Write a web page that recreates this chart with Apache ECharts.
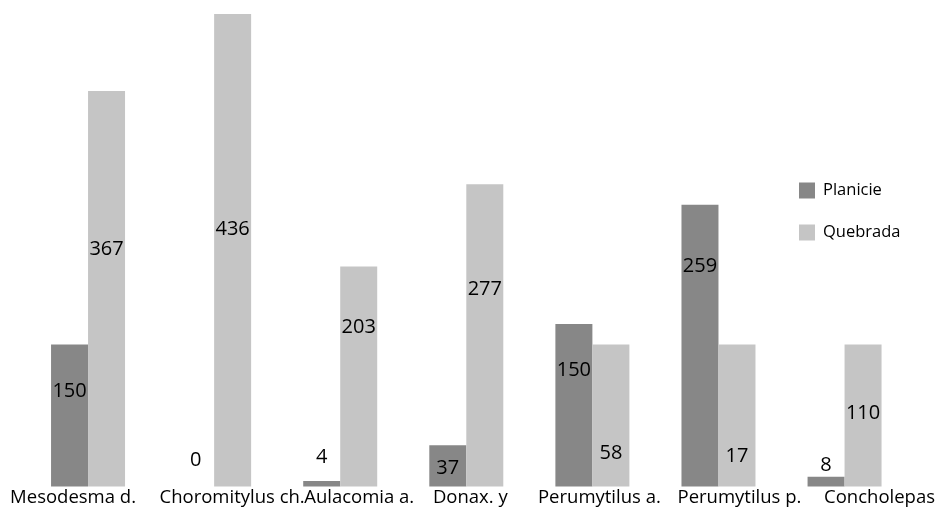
<!DOCTYPE html>
<html>
<head>
<meta charset="utf-8">
<script src="https://cdn.jsdelivr.net/npm/echarts@6/dist/echarts.min.js"></script>
<style>
  html, body { margin: 0; padding: 0; background: #fff; }
  #chart { width: 938px; height: 509px; }
</style>
</head>
<body>
<div id="chart"></div>
<script>
var categories = ['Mesodesma d.', 'Choromitylus ch.', 'Aulacomia a.', 'Donax. y', 'Perumytilus a.', 'Perumytilus p.', 'Concholepas'];
// bar heights as drawn in the picture
var planicie = [131, 0, 5, 38, 150, 260, 9];
var quebrada = [365, 436, 203, 279, 131, 131, 131];
// printed numbers and the height where each one sits
var planicieText = ['150', '0', '4', '37', '150', '259', '8'];
var quebradaText = ['367', '436', '203', '277', '58', '17', '110'];
var planicieTextAt = [88, 24, 27, 17, 107, 203, 20];
var quebradaTextAt = [219, 237, 147, 182, 31, 28, 68];

var font = '"Open Sans", sans-serif';
var chart = echarts.init(document.getElementById('chart'));

// category names in the original are not centred under their bars: shift in px
var labelShift = [-15, 18, 19, 4, 7, 21, 35];
var catItems = categories.map(function (c, i) {
    var s = labelShift[i];
    var pad = s >= 0 ? [0, 0, 0, 2 * s] : [0, -2 * s, 0, 0];
    return { value: c, textStyle: { padding: pad } };
});

function textSeries(name, vals, texts) {
    return {
        name: name + '_t',
        type: 'bar',
        xAxisIndex: 1,
        barWidth: 37,
        barGap: 0,
        silent: true,
        itemStyle: { color: 'rgba(0,0,0,0)' },
        label: {
            show: true,
            position: 'top',
            distance: -10,
            fontFamily: font,
            fontSize: 20,
            lineHeight: 20,
            color: '#000',
            formatter: function (p) { return texts[p.dataIndex]; }
        },
        data: vals
    };
}

var option = {
    animation: false,
    backgroundColor: '#fff',
    grid: { left: 25, right: 30, top: 14, bottom: 22.5 },
    legend: {
        orient: 'vertical',
        left: 799,
        top: 182,
        padding: 0,
        itemWidth: 16,
        itemHeight: 16,
        itemGap: 25,
        icon: 'rect',
        data: ['Planicie', 'Quebrada'],
        textStyle: { fontFamily: font, fontSize: 16.5, color: '#000', padding: [0, 0, 0, 3] }
    },
    xAxis: [{
        type: 'category',
        data: catItems,
        axisLine: { show: false },
        axisTick: { show: false },
        axisLabel: {
            interval: 0,
            hideOverlap: false,
            overflow: 'none',
            margin: 2,
            fontFamily: font,
            fontSize: 18.5,
            color: '#000'
        }
    }, {
        type: 'category',
        data: categories,
        show: false
    }],
    yAxis: {
        type: 'value',
        min: 0,
        max: 436,
        show: false
    },
    series: [{
        name: 'Planicie',
        type: 'bar',
        barWidth: 37,
        barGap: 0,
        itemStyle: { color: '#878787' },
        data: planicie
    }, {
        name: 'Quebrada',
        type: 'bar',
        barWidth: 37,
        barGap: 0,
        itemStyle: { color: '#c5c5c5' },
        data: quebrada
    },
        textSeries('Planicie', planicieTextAt, planicieText),
        textSeries('Quebrada', quebradaTextAt, quebradaText)
    ]
};

chart.setOption(option);
</script>
</body>
</html>
